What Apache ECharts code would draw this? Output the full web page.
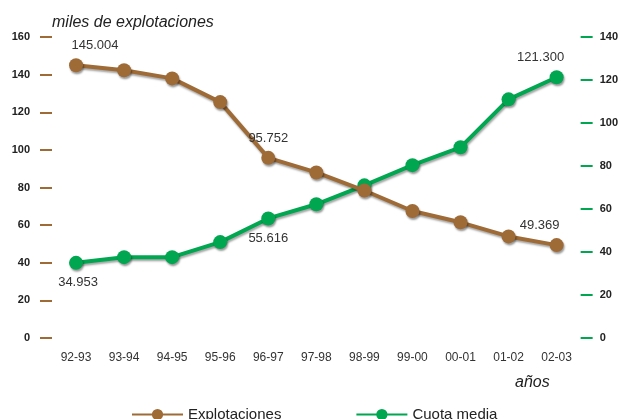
<!DOCTYPE html>
<html>
<head>
<meta charset="utf-8">
<script src="https://cdn.jsdelivr.net/npm/echarts@6/dist/echarts.min.js"></script>
<style>
html,body{margin:0;padding:0;background:#fff;}
#main{width:621px;height:419px;}
</style>
</head>
<body>
<div id="main"></div>
<script>
const categories = ['92-93','93-94','94-95','95-96','96-97','97-98','98-99','99-00','00-01','01-02','02-03'];
const explotaciones = [145.004, 142.3, 138.0, 125.4, 95.752, 88.0, 78.4, 67.5, 61.5, 54.0, 49.369];
const cuotaMedia = [34.953, 37.6, 37.6, 44.6, 55.616, 62.2, 71.0, 80.4, 88.7, 111.0, 121.300];
const leftTicks = {min: 0, max: 160, interval: 20};
const rightTicks = {min: 0, max: 140, interval: 20};
const explLabels = {0: {pos: 'top', off: [19, 0]}, 4: {pos: 'top', off: [0, 0]}, 10: {pos: 'top', off: [-17, 0]}};
const cuotaLabels = {0: {pos: 'bottom', off: [2, 0]}, 4: {pos: 'bottom', off: [0, 0]}, 10: {pos: 'top', off: [-16, 0]}};

const BROWN = '#9E6A36';
const GREEN = '#00A650';
const FONT = 'Liberation Sans, Arial, sans-serif';

function buildData(values, labels) {
  return values.map((v, i) => {
    const l = labels[i];
    if (!l) return v;
    return {
      value: v,
      label: {
        show: true, position: l.pos, offset: l.off,
        formatter: p => p.value.toFixed(3),
        color: '#333', fontSize: 13, fontFamily: FONT, distance: 6
      }
    };
  });
}

const chart = echarts.init(document.getElementById('main'));
chart.setOption({
  animation: false,
  textStyle: {fontFamily: FONT},
  title: [
    {text: 'miles de explotaciones', left: 47, top: 10,
     textStyle: {fontSize: 16, fontStyle: 'italic', fontWeight: 'normal', color: '#222', fontFamily: FONT}},
    {text: 'años', left: 510, top: 370,
     textStyle: {fontSize: 16, fontStyle: 'italic', fontWeight: 'normal', color: '#222', fontFamily: FONT}}
  ],
  grid: {left: 52, right: 40, top: 37, bottom: 81},
  legend: {
    top: 402, left: 126, itemWidth: 51, itemHeight: 14, itemGap: 74,
    data: ['Explotaciones', 'Cuota media'],
    textStyle: {fontSize: 15, color: '#222', fontFamily: FONT}
  },
  xAxis: {
    type: 'category', data: categories, boundaryGap: true,
    axisLine: {show: false}, axisTick: {show: false},
    axisLabel: {color: '#333', fontSize: 12, margin: 14, fontFamily: FONT},
    splitLine: {show: false}
  },
  yAxis: [
    {type: 'value', position: 'left', min: leftTicks.min, max: leftTicks.max, interval: leftTicks.interval,
     axisLine: {show: false},
     axisTick: {show: true, length: 12, lineStyle: {color: BROWN, width: 2}},
     axisLabel: {color: '#222', fontSize: 11, fontWeight: 'bold', margin: 22, fontFamily: FONT},
     splitLine: {show: false}},
    {type: 'value', position: 'right', min: rightTicks.min, max: rightTicks.max, interval: rightTicks.interval,
     axisLine: {show: false},
     axisTick: {show: true, length: 12, lineStyle: {color: GREEN, width: 2}},
     axisLabel: {color: '#222', fontSize: 11, fontWeight: 'bold', margin: 19, fontFamily: FONT},
     splitLine: {show: false}}
  ],
  series: [
    {name: 'Cuota media', type: 'line', yAxisIndex: 1, data: buildData(cuotaMedia, cuotaLabels),
     symbol: 'circle', symbolSize: 14,
     lineStyle: {color: GREEN, width: 4, shadowColor: 'rgba(0,0,0,0.35)', shadowBlur: 2, shadowOffsetX: 1, shadowOffsetY: 2},
     itemStyle: {color: GREEN, shadowColor: 'rgba(0,0,0,0.4)', shadowBlur: 2, shadowOffsetX: 1, shadowOffsetY: 2},
     z: 2},
    {name: 'Explotaciones', type: 'line', yAxisIndex: 0, data: buildData(explotaciones, explLabels),
     symbol: 'circle', symbolSize: 14,
     lineStyle: {color: BROWN, width: 4, shadowColor: 'rgba(0,0,0,0.35)', shadowBlur: 2, shadowOffsetX: 1, shadowOffsetY: 2},
     itemStyle: {color: BROWN, shadowColor: 'rgba(0,0,0,0.4)', shadowBlur: 2, shadowOffsetX: 1, shadowOffsetY: 2},
     z: 3}
  ]
});
</script>
</body>
</html>
